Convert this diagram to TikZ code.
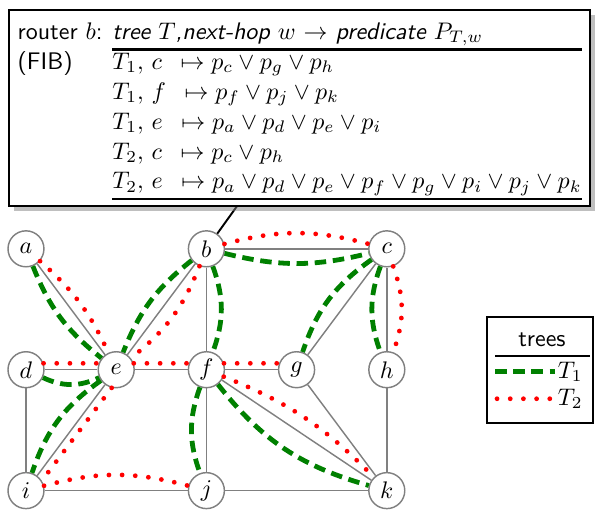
\documentclass[tikz,border=0pt]{standalone}
\usepackage{amsmath,amssymb}
\usetikzlibrary{shadows}

\tikzset{
  router/.style={circle, draw=gray, line width=0.6pt, fill=white, minimum size=15pt, inner sep=0pt},
  link/.style={gray, line width=0.6pt},
  treeone/.style={green!50!black, line width=2pt, dash pattern=on 4.8pt off 2.8pt},
  treetwo/.style={red, line width=2pt, line cap=round, dash pattern=on 0pt off 5.5pt}
}

\begin{document}
\begin{tikzpicture}[x=1.3225cm, y=1.7725cm]
  \useasboundingbox (-0.288,-0.157) rectangle (6.308,4.058);

  \node [router] (a) at (0, 2) {$a$};
  \node [router] (b) at (2, 2) {$b$};
  \node [router] (c) at (4, 2) {$c$};
  \node [router] (d) at (0, 1) {$d$};
  \node [router] (e) at (1, 1) {$e$};
  \node [router] (f) at (2, 1) {$f$};
  \node [router] (g) at (3, 1) {$g$};
  \node [router] (h) at (4, 1) {$h$};
  \node [router] (i) at (0, 0) {$i$};
  \node [router] (j) at (2, 0) {$j$};
  \node [router] (k) at (4, 0) {$k$};

  \draw [link] (a) to (e);
  \draw [link] (b) to (e);
  \draw [link] (b) to (f);
  \draw [link] (b) to (c);
  \draw [link] (c) to (g);
  \draw [link] (c) to (h);
  \draw [link] (d) to (e);
  \draw [link] (e) to (f);
  \draw [link] (f) to (g);
  \draw [link] (d) to (i);
  \draw [link] (e) to (i);
  \draw [link] (f) to (j);
  \draw [link] (f) to (k);
  \draw [link] (g) to (k);
  \draw [link] (h) to (k);
  \draw [link] (i) to (j);
  \draw [link] (j) to (k);

  \draw [treeone] (a) to [bend right=15] (e);
  \draw [treeone] (b) to [bend right=15] (e);
  \draw [treeone] (b) to [bend left=20] (f);
  \draw [treeone] (b) to [bend right=14] (c);
  \draw [treeone] (c) to [bend right=18] (g);
  \draw [treeone] (c) to [bend right=20] (h);
  \draw [treeone] (d) to [bend right=25] (e);
  \draw [treeone] (e) to [bend right=18] (i);
  \draw [treeone] (f) to [bend right=20] (j);
  \draw [treeone] (f) to [bend right=18] (k);

  \draw [treetwo] (a) to [bend left=12] (e);
  \draw [treetwo] (b) to [bend left=15] (e);
  \draw [treetwo] (b) to [bend left=15] (c);
  \draw [treetwo] (c) to [bend left=20] (h);
  \draw [treetwo] (d.20) to (e.160);
  \draw [treetwo] (e.20) to (f.160);
  \draw [treetwo] (f.20) to (g.160);
  \draw [treetwo] (f) to [bend left=12] (k);
  \draw [treetwo] (e.-104) to (i.32);
  \draw [treetwo] (i) to [bend left=15] (j);

  \coordinate (pin) at (2.35, 2.364);
  \draw [thick] (b) to (pin);
  \node [draw, thick, fill=white, drop shadow, anchor=north west, inner sep=3.5pt] (fib) at (-0.196, 3.983)
    {\sffamily\setlength{\arrayrulewidth}{1pt}\renewcommand{\arraystretch}{1.04}%
     \begin{tabular}{@{}l@{\hspace{4pt}}l@{}}
       router $b$: & \textsl{tree $T$,next-hop $w$ $\rightarrow$ predicate $P_{T,w}$} \\ \cline{2-2}
       (FIB) & $T_1,\, c\enspace\mapsto p_c \vee p_g \vee p_h$ \\
             & $T_1,\, f\enspace\mapsto p_f \vee p_j \vee p_k$ \\
             & $T_1,\, e\enspace\mapsto p_a \vee p_d \vee p_e \vee p_i$ \\
             & $T_2,\, c\enspace\mapsto p_c \vee p_h$ \\
             & $T_2,\, e\enspace\mapsto p_a \vee p_d \vee p_e \vee p_f \vee p_g \vee p_i \vee p_j \vee p_k$ \\ \cline{2-2}
     \end{tabular}};

  \draw [thick] (5.111, 0.562) rectangle (6.286, 1.438);
  \node (trees) at (5.72, 1.248) {\sffamily trees};
  \draw [thick] (5.2, 1.11) -- (6.253, 1.11);
  \coordinate (oneL) at (5.2, 0.983);
  \coordinate (oneR) at (5.865, 0.983);
  \coordinate (twoL) at (5.222, 0.760);
  \coordinate (twoR) at (5.865, 0.760);
  \draw [treeone] (oneL) to (oneR);
  \draw [treetwo] (twoL) to (twoR);
  \node [anchor=west, inner sep=1pt] (tone) at (oneR) {$T_1$};
  \node [anchor=west, inner sep=1pt] (ttwo) at (twoR) {$T_2$};

\end{tikzpicture}
\end{document}
